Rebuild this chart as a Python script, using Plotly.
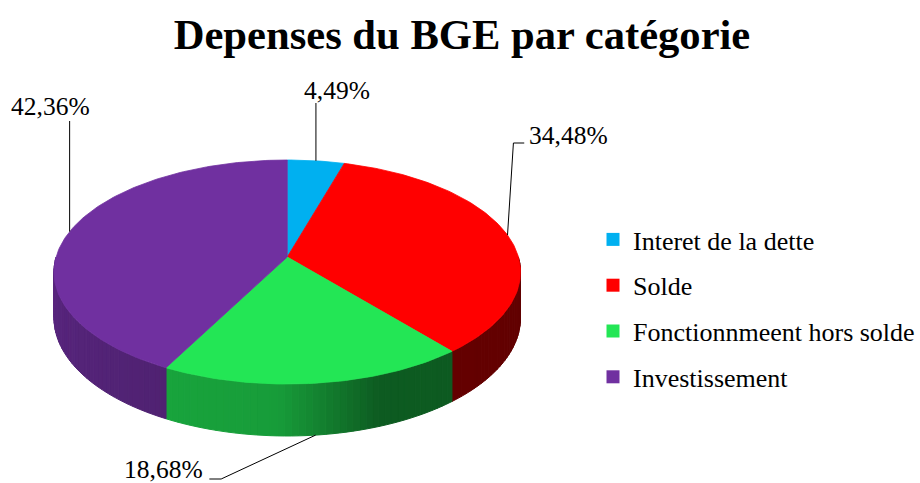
import numpy as np
import plotly.graph_objects as go

# ---------------- data ----------------
categories = ["Interet de la dette", "Solde", "Fonctionnmeent hors solde", "Investissement"]
values = [4.49, 34.48, 18.68, 42.36]
colors = ["#00B0F0", "#FF0000", "#23E655", "#7030A0"]
title_text = "Depenses du BGE par catégorie"

# ---------------- geometry of the tilted (3D) pie ----------------
CX, CY = 292, 257      # pie centre in pixel space
A, B = 235, 110        # horizontal / vertical radius
K = 0.134              # perspective strength
DEPTH = 45             # thickness of the disc

def proj(theta_deg, drop=0.0):
    t = np.radians(theta_deg)
    u, v = np.sin(t), np.cos(t)
    s = 1.0 / (1.0 + K * v)
    return CX + A * u * s, CY - B * v * s + drop * s

def hex_rgb(h):
    h = h.lstrip("#")
    return tuple(int(h[i:i + 2], 16) for i in (0, 2, 4))

def shade(hexcol, f):
    r, g, b = hex_rgb(hexcol)
    return f"rgb({int(r * f)},{int(g * f)},{int(b * f)})"

def side_factor(theta):
    return float(np.interp(theta, [90, 160, 182, 270], [0.38, 0.40, 0.68, 0.80]))

total = sum(values)
bounds = np.concatenate([[0], np.cumsum(values) / total * 360.0])

fig = go.Figure()

# side walls (front half only), drawn first
for i, col in enumerate(colors):
    a0, a1 = max(bounds[i], 90.0), min(bounds[i + 1], 270.0)
    if a1 <= a0:
        continue
    n = max(2, int(np.ceil((a1 - a0) / 1.5)))
    th = np.linspace(a0, a1, n + 1)
    for j in range(n):
        t0, t1 = th[j], th[j + 1]
        x0, y0 = proj(t0)
        x1, y1 = proj(t1)
        x2, y2 = proj(t1, DEPTH)
        x3, y3 = proj(t0, DEPTH)
        c = shade(col, side_factor(0.5 * (t0 + t1)))
        fig.add_trace(go.Scatter(
            x=[x0, x1, x2, x3, x0], y=[y0, y1, y2, y3, y0],
            mode="lines", fill="toself", fillcolor=c,
            line=dict(color=c, width=1), hoverinfo="skip", showlegend=False))

# top faces
for i, col in enumerate(colors):
    th = np.linspace(bounds[i], bounds[i + 1], max(3, int((bounds[i + 1] - bounds[i]) / 1.0) + 1))
    xs, ys = proj(th)
    xs = np.concatenate([[CX], xs, [CX]])
    ys = np.concatenate([[CY], ys, [CY]])
    fig.add_trace(go.Scatter(
        x=xs, y=ys, mode="lines", fill="toself", fillcolor=col,
        line=dict(color=col, width=0.8), hoverinfo="skip", showlegend=False))

# legend entries
for i, (cat, col) in enumerate(zip(categories, colors)):
    fig.add_trace(go.Scatter(
        x=[None], y=[None], mode="markers", name=cat, legendgroup=str(i),
        marker=dict(symbol="square", size=13, color=col)))

# data labels with leader lines
mids = 0.5 * (bounds[:-1] + bounds[1:])
label_font = dict(family="Liberation Serif, Times New Roman, serif", size=25.5, color="#000000")
lab = [f"{v:.2f}".replace(".", ",") + "%" for v in values]

# Interet: vertical line upward
ax_, ay_ = proj(mids[0])
fig.add_trace(go.Scatter(x=[ax_, ax_], y=[ay_, 103], mode="lines",
                         line=dict(color="black", width=1), hoverinfo="skip", showlegend=False))
fig.add_annotation(x=ax_ + 21, y=90, text=lab[0], showarrow=False, font=label_font,
                   xanchor="center", yanchor="middle")

# Solde: up then right
ax_, ay_ = proj(mids[1])
fig.add_trace(go.Scatter(x=[ax_, ax_ + 6, ax_ + 17], y=[ay_, 143, 143], mode="lines",
                         line=dict(color="black", width=1), hoverinfo="skip", showlegend=False))
fig.add_annotation(x=ax_ + 20, y=135, text=lab[1], showarrow=False, font=label_font,
                   xanchor="left", yanchor="middle")

# Fonctionnement: from bottom edge down-left
ax_, ay_ = proj(mids[2], DEPTH)
fig.add_trace(go.Scatter(x=[ax_, ax_ - 96, ax_ - 108], y=[ay_, 479, 479], mode="lines",
                         line=dict(color="black", width=1), hoverinfo="skip", showlegend=False))
fig.add_annotation(x=ax_ - 112, y=469, text=lab[2], showarrow=False, font=label_font,
                   xanchor="right", yanchor="middle")

# Investissement: vertical line upward
ax_, ay_ = proj(mids[3])
fig.add_trace(go.Scatter(x=[ax_, ax_], y=[ay_, 121], mode="lines",
                         line=dict(color="black", width=1), hoverinfo="skip", showlegend=False))
fig.add_annotation(x=ax_ - 19, y=106, text=lab[3], showarrow=False, font=label_font,
                   xanchor="center", yanchor="middle")

W, H = 920, 483
fig.update_layout(
    width=W, height=H,
    margin=dict(l=0, r=0, t=0, b=0),
    paper_bgcolor="white", plot_bgcolor="white",
    title=dict(text=f"<b>{title_text}</b>", x=462 / W, xanchor="center",
               y=1 - 34 / H, yanchor="middle", yref="container",
               font=dict(family="Liberation Serif, Times New Roman, serif", size=42.6, color="black")),
    xaxis=dict(range=[0, W], visible=False, fixedrange=True),
    yaxis=dict(range=[H, 0], visible=False, fixedrange=True),
    showlegend=True,
    legend=dict(x=603 / W, xanchor="left", y=1 - 216 / H, yanchor="top",
                font=dict(family="Liberation Serif, Times New Roman, serif", size=26, color="black"),
                tracegroupgap=9, itemsizing="trace", bgcolor="rgba(0,0,0,0)"),
)

fig.write_html("out.html", config={"displayModeBar": False},
               post_script="document.body.style.margin='0';")
